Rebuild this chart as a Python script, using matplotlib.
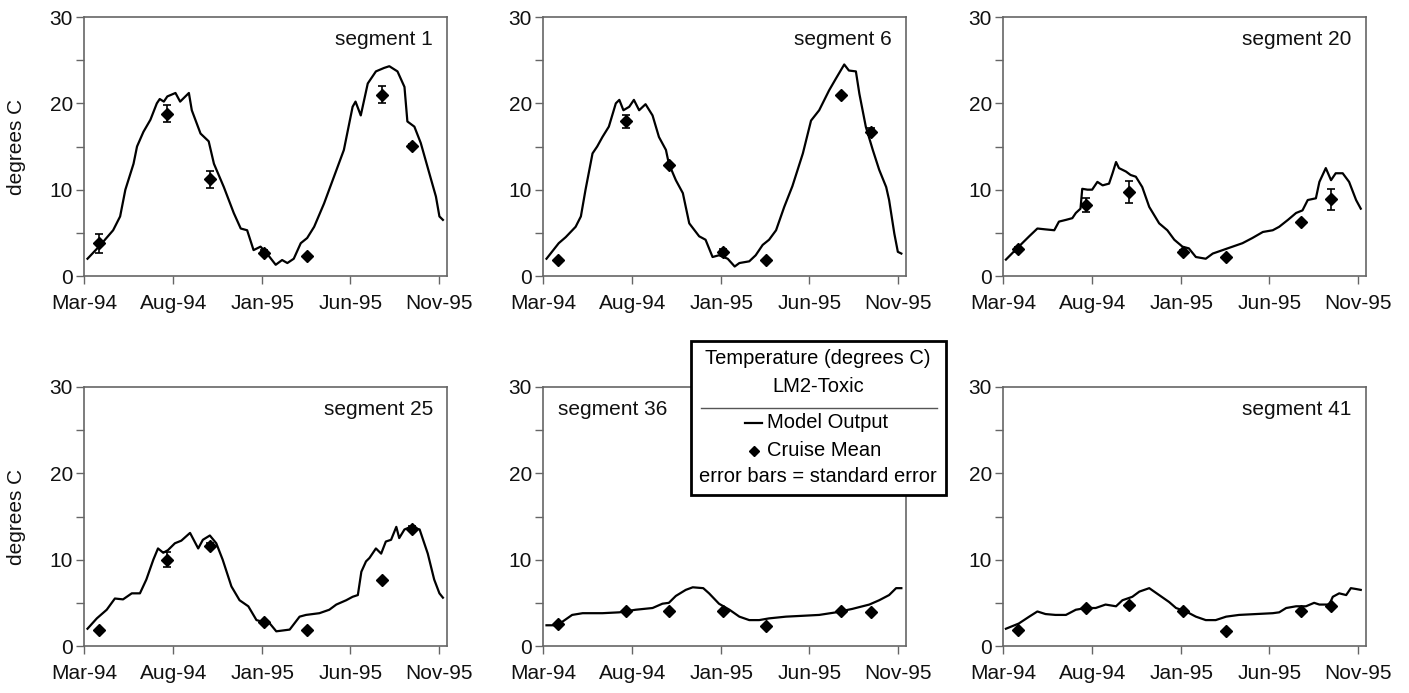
import matplotlib
matplotlib.use('Agg')
import matplotlib.pyplot as plt
import matplotlib.dates as mdates
import pandas as pd
from matplotlib.patches import Rectangle
from matplotlib.lines import Line2D

plt.rcParams['font.family'] = ['Liberation Sans', 'DejaVu Sans']

start = pd.Timestamp('1994-03-01')

# model output, days after 1 Mar 1994 and temperature
seg1_days = [6, 27, 50, 62, 71, 85, 91, 102, 114, 125, 130, 137, 143, 157, 165, 180, 185, 200, 214, 223,
             240, 257, 269, 280, 291, 303, 314, 329, 340, 349, 360, 372, 383, 395, 412, 429, 446, 461, 466,
             475, 487, 501, 515, 524, 538, 550, 555, 567, 578, 596, 604, 610, 616]
seg1_temp = [2.0, 3.5, 5.3, 6.9, 10.0, 13.0, 15.0, 16.7, 18.1, 20.0, 20.5, 20.2, 20.8, 21.2, 20.2, 21.2, 19.2,
             16.5, 15.6, 13.0, 10.3, 7.3, 5.5, 5.3, 3.0, 3.4, 2.6, 1.3, 1.85, 1.5, 2.0, 3.8, 4.4, 5.7, 8.4,
             11.5, 14.6, 19.6, 20.2, 18.6, 22.3, 23.7, 24.1, 24.3, 23.7, 21.9, 17.9, 17.3, 15.4, 11.1, 9.2,
             6.9, 6.5]

seg6_days = [6, 27, 39, 56, 65, 73, 85, 93, 102, 113, 125, 131, 138, 148, 156, 165, 176, 188, 199, 211, 216,
             228, 240, 251, 268, 279, 291, 302, 317, 329, 337, 354, 365, 377, 388, 400, 414, 428, 446, 460,
             474, 491, 503, 517, 525, 537, 543, 554, 566, 577, 589, 594, 603, 609, 615]
seg6_temp = [2.0, 3.8, 4.5, 5.7, 6.9, 10.0, 14.2, 15.0, 16.1, 17.3, 20.0, 20.4, 19.2, 19.6, 20.4, 19.2, 19.9,
             18.6, 16.1, 14.6, 13.0, 11.1, 9.6, 6.1, 4.6, 4.2, 2.2, 2.4, 2.0, 1.1, 1.5, 1.7, 2.4, 3.6, 4.2,
             5.3, 8.0, 10.4, 14.2, 18.0, 19.2, 21.5, 22.9, 24.5, 23.8, 23.7, 21.1, 17.3, 14.6, 12.3, 10.3,
             8.8, 4.9, 2.8, 2.6]

seg20_days = [5, 27, 45, 59, 73, 88, 96, 108, 119, 125, 133, 136, 145, 153, 162, 171, 182, 188, 194, 199,
              211, 219, 228, 239, 251, 268, 282, 294, 308, 319, 331, 348, 360, 377, 394, 411, 428, 446, 463,
              474, 489, 503, 514, 523, 537, 543, 554, 563, 571, 583, 594, 606, 614]
seg20_temp = [1.9, 3.4, 4.6, 5.5, 5.4, 5.3, 6.3, 6.5, 6.7, 7.3, 7.8, 10.1, 10.0, 10.0, 10.9, 10.5, 10.7,
              11.9, 13.2, 12.5, 12.1, 11.7, 11.5, 10.3, 8.0, 6.1, 5.3, 4.2, 3.4, 3.2, 2.2, 2.0, 2.6, 3.0,
              3.4, 3.8, 4.4, 5.1, 5.3, 5.7, 6.5, 7.3, 7.6, 8.8, 9.0, 10.9, 12.5, 11.1, 11.9, 11.9, 10.9,
              8.8, 7.8]

seg25_days = [6, 22, 39, 53, 67, 82, 96, 107, 119, 127, 136, 144, 156, 167, 182, 196, 204, 216, 227, 238,
              253, 267, 282, 296, 307, 319, 330, 353, 370, 381, 404, 421, 433, 450, 461, 470, 476, 484, 490,
              501, 510, 518, 527, 536, 541, 550, 561, 576, 590, 601, 610, 616]
seg25_temp = [2.0, 3.2, 4.2, 5.5, 5.4, 6.1, 6.1, 7.7, 10.0, 11.3, 10.8, 11.1, 11.9, 12.2, 13.1, 11.3, 12.3,
              12.8, 11.9, 10.0, 6.9, 5.3, 4.6, 3.0, 2.8, 2.6, 1.7, 1.9, 3.4, 3.6, 3.8, 4.2, 4.8, 5.3, 5.7,
              5.9, 8.6, 9.8, 10.2, 11.3, 10.7, 12.1, 12.3, 13.8, 12.5, 13.5, 13.8, 13.5, 10.7, 7.7, 6.1, 5.6]

seg36_days = [6, 19, 33, 50, 68, 102, 131, 159, 188, 205, 216, 228, 245, 257, 275, 285, 302, 320, 337, 354,
              371, 388, 417, 446, 474, 503, 531, 560, 577, 594, 606, 615]
seg36_temp = [2.4, 2.4, 2.8, 3.6, 3.8, 3.8, 3.9, 4.2, 4.4, 4.9, 5.0, 5.8, 6.5, 6.8, 6.7, 6.1, 4.9, 4.2, 3.4,
              3.0, 3.0, 3.2, 3.4, 3.5, 3.6, 3.9, 4.3, 4.8, 5.3, 5.9, 6.7, 6.7]

seg41_days = [5, 27, 45, 59, 73, 90, 108, 125, 142, 159, 176, 194, 205, 222, 234, 251, 268, 285, 297, 314,
              331, 348, 365, 383, 405, 434, 463, 474, 486, 503, 520, 534, 543, 560, 566, 577, 589, 597, 606,
              614]
seg41_temp = [2.0, 2.6, 3.4, 4.0, 3.7, 3.6, 3.6, 4.2, 4.4, 4.4, 4.8, 4.6, 5.3, 5.7, 6.3, 6.7, 5.9, 5.1, 4.4,
              4.0, 3.4, 3.0, 3.0, 3.4, 3.6, 3.7, 3.8, 3.9, 4.4, 4.6, 4.6, 5.0, 4.8, 4.8, 5.7, 6.1, 5.9, 6.7,
              6.6, 6.5]

# cruise means and standard errors
cruise_dates = ['1994-03-27', '1994-07-22', '1994-10-03', '1995-01-04', '1995-03-18', '1995-07-25', '1995-09-15']
seg1_mean = [3.8, 18.8, 11.2, 2.7, 2.3, 21.0, 15.1]
seg1_err = [1.1, 1.0, 1.0, 0.3, 0.1, 1.0, 0.2]
seg6_mean = [1.9, 17.9, 12.8, 2.8, 1.9, 21.0, 16.7]
seg6_err = [0.1, 0.8, 0.2, 0.3, 0.1, 0.1, 0.4]
seg20_mean = [3.1, 8.2, 9.7, 2.8, 2.2, 6.2, 8.9]
seg20_err = [0.3, 0.8, 1.3, 0.2, 0.1, 0.2, 1.2]
seg25_mean = [1.9, 10.0, 11.6, 2.8, 1.9, 7.7, 13.6]
seg25_err = [0.1, 0.9, 0.3, 0.1, 0.1, 0.1, 0.3]
seg36_mean = [2.6, 4.0, 4.1, 4.0, 2.3, 4.0, 3.9]
seg36_err = [0.1, 0.1, 0.1, 0.1, 0.1, 0.1, 0.1]
seg41_mean = [1.9, 4.4, 4.8, 4.0, 1.7, 4.1, 4.6]
seg41_err = [0.1, 0.1, 0.1, 0.1, 0.1, 0.1, 0.1]

segments = ['segment 1', 'segment 6', 'segment 20', 'segment 25', 'segment 36', 'segment 41']
model_days = [seg1_days, seg6_days, seg20_days, seg25_days, seg36_days, seg41_days]
model_temp = [seg1_temp, seg6_temp, seg20_temp, seg25_temp, seg36_temp, seg41_temp]
cruise_mean = [seg1_mean, seg6_mean, seg20_mean, seg25_mean, seg36_mean, seg41_mean]
cruise_err = [seg1_err, seg6_err, seg20_err, seg25_err, seg36_err, seg41_err]

tick_dates = ['1994-03-01', '1994-08-01', '1995-01-01', '1995-06-01', '1995-11-01']

W, H = 1409, 693
fig = plt.figure(figsize=(W / 100, H / 100), dpi=100)

lefts = [84, 543, 1003]
tops = [17, 387]
aw, ah = 363, 259
spine_col = '#666666'
fs = 15

cdates = pd.to_datetime(cruise_dates)
for i, name in enumerate(segments):
    r, c = divmod(i, 3)
    ax = fig.add_axes([lefts[c] / W, 1 - (tops[r] + ah) / H, aw / W, ah / H])
    dates = start + pd.to_timedelta(model_days[i], unit='D')
    ax.plot(dates, model_temp[i], color='black', lw=1.6)
    ax.errorbar(cdates, cruise_mean[i], yerr=cruise_err[i], fmt='D', color='black', ms=6.5,
                elinewidth=1.2, capsize=3, capthick=1.2)
    ax.set_xlim(pd.Timestamp('1994-03-01'), pd.Timestamp('1995-11-14'))
    ax.set_ylim(0, 30)
    ax.set_yticks([0, 10, 20, 30])
    ax.set_yticks([5, 15, 25], minor=True)
    ax.set_xticks(pd.to_datetime(tick_dates))
    ax.xaxis.set_major_formatter(mdates.DateFormatter('%b-%y'))
    ax.tick_params(axis='both', which='both', direction='out', length=6, width=1, color=spine_col,
                   labelsize=fs, labelcolor='#111111')
    ax.tick_params(axis='x', pad=7)
    ax.tick_params(axis='y', pad=2)
    for s in ax.spines.values():
        s.set_color(spine_col)
        s.set_linewidth(1.2)
    if name == 'segment 36':
        ax.text(0.041, 0.915, name, transform=ax.transAxes, ha='left', va='center', fontsize=fs, color='#111111')
    else:
        ax.text(0.961, 0.915, name, transform=ax.transAxes, ha='right', va='center', fontsize=fs, color='#111111')
    if c == 0:
        ax.set_ylabel('degrees C', fontsize=fs, color='#111111')
        ax.yaxis.set_label_coords(-0.16, 0.5)

# legend box
def fx(px):
    return px / W

def fy(py):
    return 1 - py / H

box = Rectangle((fx(691), fy(495)), fx(946) - fx(691), fy(341) - fy(495), transform=fig.transFigure,
                facecolor='white', edgecolor='black', lw=2, zorder=10)
fig.add_artist(box)
cx = fx(818)
lfs = 14.5
fig.text(cx, fy(359), 'Temperature (degrees C)', ha='center', va='center', fontsize=lfs, zorder=11)
fig.text(cx, fy(387), 'LM2-Toxic', ha='center', va='center', fontsize=lfs, zorder=11)
fig.add_artist(Line2D([fx(701), fx(937)], [fy(408), fy(408)], transform=fig.transFigure,
                      color='#555555', lw=1, zorder=11))
fig.add_artist(Line2D([fx(745), fx(762)], [fy(423), fy(423)], transform=fig.transFigure,
                      color='black', lw=1.6, zorder=11))
fig.text(fx(767), fy(423), 'Model Output', ha='left', va='center', fontsize=lfs, zorder=11)
fig.add_artist(Line2D([fx(754)], [fy(451)], transform=fig.transFigure, marker='D', ms=5,
                      color='black', lw=0, zorder=11))
fig.text(fx(767), fy(451), 'Cruise Mean', ha='left', va='center', fontsize=lfs, zorder=11)
fig.text(cx, fy(477), 'error bars = standard error', ha='center', va='center', fontsize=lfs, zorder=11)

fig.savefig('out.png', dpi=100)
